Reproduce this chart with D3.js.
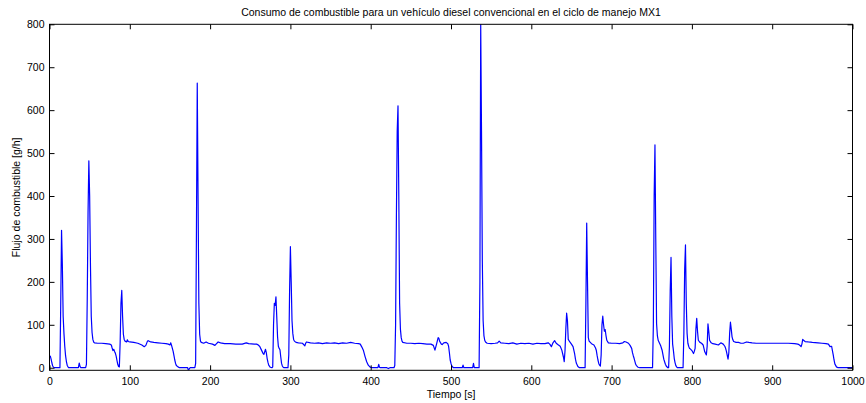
<!DOCTYPE html>
<html>
<head>
<meta charset="utf-8">
<script src="https://cdn.jsdelivr.net/npm/d3@7"></script>
<style>
  html, body { margin: 0; padding: 0; background: #fff; }
  svg { display: block; font-family: "Liberation Sans", Arial, Helvetica, sans-serif; }
</style>
</head>
<body>
<svg id="chart" width="866" height="403"></svg>
<script>
// ---- data ----
const titleText = "Consumo de combustible para un vehículo diesel convencional en el ciclo de manejo MX1";
const xLabelText = "Tiempo [s]";
const yLabelText = "Flujo de combustible [g/h]";
const xTicks = [0, 100, 200, 300, 400, 500, 600, 700, 800, 900, 1000];
const yTicks = [0, 100, 200, 300, 400, 500, 600, 700, 800];

const time = [
  0,1,2,3,4,5,6,
  13,14,15,16,17,18,19,20,21,22,23,24,
  36,37,38,39,
  45,46,47,48,49,50,51,52,53,54,55,56,
  60,65,70,75,77,78,79,80,81,82,83,84,85,86,87,
  88,89,90,91,92,93,94,96,97,98,100,105,110,115,118,120,122,123,126,130,135,140,145,148,150,151,152,153,154,155,156,157,158,160,162,
  172,173,174,175,181,182,183,184,185,186,187,188,189,
  192,195,198,203,206,208,210,213,218,225,232,240,245,248,255,258,260,262,264,266,267,269,270,271,272,273,275,277,278,
  279,280,281,282,283,284,285,286,287,288,289,290,291,292,
  297,298,299,300,301,302,303,304,305,307,
  310,315,318,319,320,325,330,335,340,345,350,355,360,365,370,375,380,385,387,389,391,393,395,397,399,401,
  409,410,411,412,420,422,424,429,430,431,432,433,434,435,436,437,438,439,440,
  445,450,455,460,465,470,475,478,480,482,484,485,486,488,489,491,494,496,497,498,499,500,501,503,
  514,515,516,527,528,529,535,536,537,538,539,540,541,542,543,545,
  550,555,558,560,562,567,572,577,582,587,592,597,602,607,612,617,621,623,625,627,629,631,633,636,638,640,641,642,643,644,645,646,648,650,652,654,655,656,658,660,
  667,668,669,670,671,672,675,678,680,681,682,683,684,685,686,687,688,689,690,691,692,693,694,696,
  700,705,710,714,716,718,721,723,725,726,727,728,730,731,733,735,
  751,752,753,754,755,756,757,758,760,761,762,763,764,765,766,767,768,770,
  771,772,773,774,775,776,777,778,779,780,781,782,
  789,790,791,792,793,794,795,796,797,798,800,802,803,804,805,806,807,808,810,812,814,815,816,818,819,820,821,822,824,826,829,833,836,839,841,842,843,845,846,847,848,849,850,851,852,
  855,858,861,864,868,871,875,880,890,900,910,920,928,932,934,936,937,938,939,941,945,950,957,962,967,970,972,974,975,976,977,978,980,982,1000
];
const flow = [
  25,27,20,11,4,1,0,
  0,150,320,240,120,80,50,28,15,6,2,0,
  0,11,3,0,
  0,8,160,360,482,400,240,120,82,66,60,58,
  57,57,56,55,53,46,40,43,38,34,27,17,8,3,2,
  60,150,180,120,78,66,62,60,65,61,60,59,57,53,49,52,62,63,60,59,58,57,56,55,53,58,52,45,38,28,18,10,5,2,0,
  0,-6,-3,0,0,10,320,663,400,150,78,62,59,
  57,60,57,55,52,56,60,58,56,56,55,55,58,56,55,55,53,49,41,33,31,43,35,22,13,6,1,0,2,
  100,150,145,165,119,72,50,45,42,25,10,4,1,0,
  0,30,180,282,200,110,80,66,62,59,
  58,57,51,57,60,58,57,58,56,58,57,58,56,58,57,59,57,56,55,48,40,26,14,6,2,0,
  0,8,1,0,0,-2,0,0,5,100,350,550,610,400,150,90,70,62,59,
  57,57,56,57,56,55,55,52,41,55,70,68,61,55,54,58,59,56,50,35,18,10,4,0,
  0,6,0,0,10,0,0,200,800,550,250,110,75,64,60,57,
  56,57,58,62,58,57,56,58,55,57,56,57,55,57,56,56,58,55,49,58,63,57,54,50,41,25,14,40,90,127,110,66,60,55,49,32,20,11,3,0,
  0,150,337,200,70,62,56,53,46,40,28,18,10,6,4,30,100,120,100,85,89,75,64,58,
  57,57,56,58,61,60,57,52,45,35,28,22,8,5,1,0,
  0,100,400,519,300,103,75,64,56,52,46,40,30,20,14,8,4,0,
  0,50,180,257,120,55,40,22,12,5,2,0,
  0,80,230,286,150,80,57,50,45,44,40,33,38,45,90,115,85,64,59,57,53,45,37,30,50,102,85,64,58,56,55,53,58,55,50,45,38,20,35,80,106,90,72,65,61,
  59,59,57,57,60,59,58,57,57,57,57,57,56,55,53,49,55,66,64,61,60,59,58,57,56,55,49,50,40,30,18,9,2,0,0
];

// ---- layout ----
const W = 866, H = 403;
const plot = { left: 49.5, right: 852.5, top: 24.3, bottom: 370.3 };
const FS = 10.5;

const svg = d3.select("#chart");

const x = d3.scaleLinear().domain([0, 1000]).range([plot.left, plot.right]);
const y = d3.scaleLinear().domain([-6, 800]).range([plot.bottom, plot.top]);

// data line
const pts = time.map((t, i) => [t, flow[i]]);
svg.append("defs").append("clipPath").attr("id", "clip")
  .append("rect")
  .attr("x", plot.left).attr("y", plot.top)
  .attr("width", plot.right - plot.left).attr("height", plot.bottom - plot.top);

svg.append("path")
  .datum(pts)
  .attr("clip-path", "url(#clip)")
  .attr("fill", "none")
  .attr("stroke", "#0000ff")
  .attr("stroke-width", 1.2)
  .attr("stroke-linejoin", "round")
  .attr("d", d3.line().x(d => x(d[0])).y(d => y(d[1])));

// axes (MATLAB style: ticks inward on all four sides)
function styleAxis(g) {
  g.select(".domain").remove();
  g.selectAll(".tick line").attr("stroke", "#000").attr("stroke-width", 1);
  g.selectAll(".tick text").attr("fill", "#000").attr("font-size", FS)
    .attr("font-family", "'Liberation Sans', Arial, Helvetica, sans-serif");
}

svg.append("g")
  .attr("transform", `translate(0,${plot.bottom})`)
  .call(d3.axisBottom(x).tickValues(xTicks).tickSizeInner(-5).tickSizeOuter(0).tickPadding(7).tickFormat(d3.format("d")))
  .call(styleAxis);

svg.append("g")
  .attr("transform", `translate(0,${plot.top})`)
  .call(d3.axisTop(x).tickValues(xTicks).tickSizeInner(-5).tickSizeOuter(0).tickFormat(""))
  .call(styleAxis);

svg.append("g")
  .attr("transform", `translate(${plot.left},0)`)
  .call(d3.axisLeft(y).tickValues(yTicks).tickSizeInner(-5).tickSizeOuter(0).tickPadding(5).tickFormat(d3.format("d")))
  .call(styleAxis);

svg.append("g")
  .attr("transform", `translate(${plot.right},0)`)
  .call(d3.axisRight(y).tickValues(yTicks).tickSizeInner(-5).tickSizeOuter(0).tickFormat(""))
  .call(styleAxis);

// frame
svg.append("rect")
  .attr("x", plot.left).attr("y", plot.top)
  .attr("width", plot.right - plot.left).attr("height", plot.bottom - plot.top)
  .attr("fill", "none").attr("stroke", "#000").attr("stroke-width", 1);

// title and labels
const cx = (plot.left + plot.right) / 2;
svg.append("text")
  .attr("x", cx).attr("y", 16)
  .attr("text-anchor", "middle")
  .attr("font-size", FS)
  .attr("fill", "#000")
  .text(titleText);

svg.append("text")
  .attr("x", cx).attr("y", 398)
  .attr("text-anchor", "middle")
  .attr("font-size", FS)
  .attr("fill", "#000")
  .text(xLabelText);

svg.append("text")
  .attr("transform", `translate(20,${(plot.top + plot.bottom) / 2}) rotate(-90)`)
  .attr("text-anchor", "middle")
  .attr("font-size", FS)
  .attr("fill", "#000")
  .text(yLabelText);
</script>
</body>
</html>
